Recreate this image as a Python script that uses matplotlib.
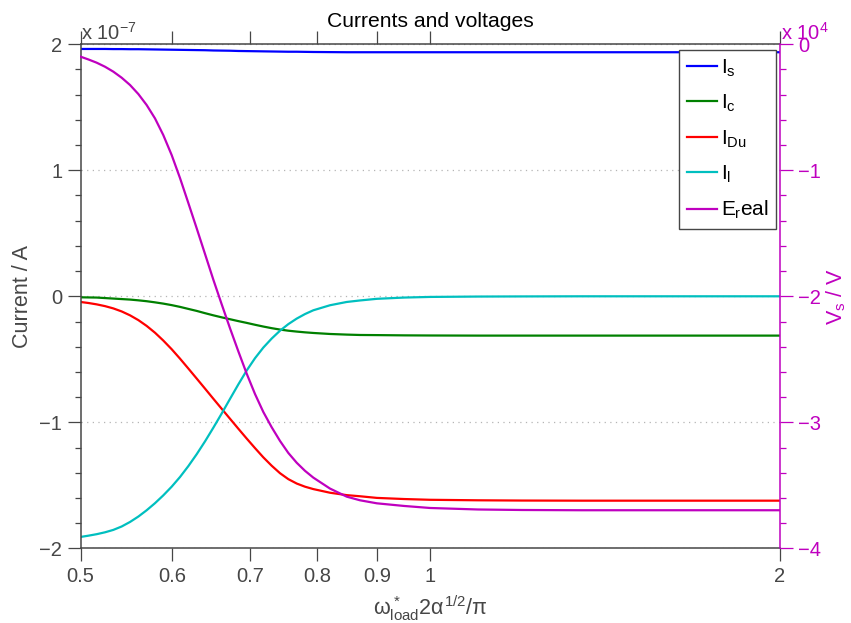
import matplotlib
matplotlib.use("Agg")
import matplotlib.pyplot as plt
from matplotlib.ticker import FixedLocator, MultipleLocator, NullLocator, FixedFormatter

plt.rcParams['font.family'] = ['Liberation Sans', 'DejaVu Sans']
plt.rcParams['mathtext.fontset'] = 'custom'
plt.rcParams['mathtext.rm'] = 'Liberation Sans'
plt.rcParams['mathtext.it'] = 'Liberation Sans'
plt.rcParams['mathtext.sf'] = 'Liberation Sans'
plt.rcParams['mathtext.bf'] = 'Liberation Sans:bold'
plt.rcParams['lines.solid_joinstyle'] = 'round'

# normalised load frequency
freq = [0.5, 0.5078, 0.5163, 0.5249, 0.5336, 0.5425, 0.5516, 0.5608, 0.5701, 0.5796,
        0.5892, 0.5991, 0.6091, 0.6192, 0.6296, 0.6401, 0.6507, 0.6616, 0.6726, 0.6838,
        0.6952, 0.7068, 0.7185, 0.7306, 0.7427, 0.7550, 0.7677, 0.7804, 0.7934, 0.8201,
        0.8477, 0.8704, 0.9, 0.95, 1.0, 1.1, 1.2, 1.35, 1.5, 1.75, 2.0]

# currents in units of 1e-7 A
I_s = [1.963, 1.963, 1.963, 1.963, 1.962, 1.962, 1.961, 1.961, 1.960, 1.959,
       1.958, 1.957, 1.956, 1.955, 1.954, 1.953, 1.951, 1.950, 1.949, 1.947,
       1.946, 1.945, 1.944, 1.943, 1.942, 1.941, 1.941, 1.940, 1.939, 1.938,
       1.937, 1.937, 1.937, 1.937, 1.937, 1.937, 1.937, 1.937, 1.937, 1.937, 1.937]
I_c = [-0.008, -0.009, -0.010, -0.014, -0.018, -0.022, -0.026, -0.032, -0.039, -0.048,
       -0.058, -0.070, -0.084, -0.100, -0.116, -0.134, -0.151, -0.167, -0.182, -0.197,
       -0.211, -0.226, -0.240, -0.253, -0.264, -0.273, -0.280, -0.286, -0.291, -0.299,
       -0.304, -0.307, -0.308, -0.310, -0.311, -0.312, -0.312, -0.312, -0.312, -0.312, -0.312]
I_Du = [-0.045, -0.053, -0.064, -0.078, -0.096, -0.120, -0.151, -0.189, -0.235, -0.289,
        -0.351, -0.420, -0.495, -0.573, -0.653, -0.733, -0.813, -0.893, -0.972, -1.051,
        -1.129, -1.205, -1.278, -1.345, -1.404, -1.451, -1.486, -1.511, -1.530, -1.559,
        -1.578, -1.587, -1.600, -1.609, -1.615, -1.619, -1.621, -1.622, -1.622, -1.622, -1.622]
I_l = [-1.910, -1.900, -1.888, -1.873, -1.854, -1.827, -1.791, -1.748, -1.698, -1.642,
       -1.580, -1.511, -1.434, -1.348, -1.253, -1.151, -1.043, -0.930, -0.814, -0.699,
       -0.589, -0.491, -0.407, -0.335, -0.273, -0.221, -0.177, -0.141, -0.111, -0.071,
       -0.045, -0.033, -0.020, -0.010, -0.005, -0.002, -0.001, 0.0, 0.0, 0.0, 0.0]
# source voltage in units of 1e4 V
E_real = [-0.098, -0.120, -0.146, -0.178, -0.217, -0.265, -0.323, -0.395, -0.482, -0.588,
          -0.720, -0.879, -1.062, -1.259, -1.461, -1.665, -1.868, -2.064, -2.254, -2.437,
          -2.614, -2.776, -2.918, -3.040, -3.148, -3.243, -3.321, -3.385, -3.439, -3.526,
          -3.590, -3.619, -3.643, -3.664, -3.680, -3.692, -3.696, -3.698, -3.698, -3.698, -3.698]

x_ticks = [0.5, 0.6, 0.7, 0.8, 0.9, 1, 2]
x_tick_labels = ['0.5', '0.6', '0.7', '0.8', '0.9', '1', '2']
left_ticks = [-2, -1, 0, 1, 2]
left_tick_labels = ['\u22122', '\u22121', '0', '1', '2']
right_ticks = [-4, -3, -2, -1, 0]
right_tick_labels = ['\u22124', '\u22123', '\u22122', '\u22121', '0']

GRAY = '#464646'
MAG = '#bf00bf'
colors = {'s': '#0000ff', 'c': '#008000', 'Du': '#ff0000', 'l': '#00bfbf'}

W, H = 851, 623
fig = plt.figure(figsize=(W / 100, H / 100), dpi=100)
ax = fig.add_axes([80.5 / W, 1 - 548.3 / H, 699 / W, 504 / H])

h_s, = ax.plot(freq, I_s, color=colors['s'], lw=1.6, label=r'$I_s$')
h_c, = ax.plot(freq, I_c, color=colors['c'], lw=1.6, label=r'$I_c$')
h_du, = ax.plot(freq, I_Du, color=colors['Du'], lw=1.6, label=r'$I_{Du}$')
h_l, = ax.plot(freq, I_l, color=colors['l'], lw=1.6, label=r'$I_l$')

ax.set_xscale('log')
ax.set_xlim(0.5, 2)
ax.set_ylim(-2, 2)
ax.xaxis.set_major_locator(FixedLocator(x_ticks))
ax.xaxis.set_major_formatter(FixedFormatter(x_tick_labels))
ax.xaxis.set_minor_locator(NullLocator())
ax.yaxis.set_major_locator(FixedLocator(left_ticks))
ax.yaxis.set_major_formatter(FixedFormatter(left_tick_labels))
ax.yaxis.set_minor_locator(MultipleLocator(0.2))

ax.tick_params(which='major', direction='out', length=9.7, width=0.9, color=GRAY,
               labelcolor=GRAY, labelsize=14.5, pad=3.5, top=True, right=False)
ax.tick_params(which='minor', direction='out', length=4.4, width=0.9, color=GRAY,
               right=False)
ax.yaxis.grid(True, which='major', linestyle=(0, (1, 3.5)), color='#b5b5b5', lw=0.9)
ax.set_axisbelow(True)
for side in ('left', 'top', 'bottom'):
    ax.spines[side].set_color(GRAY)
    ax.spines[side].set_linewidth(1.1)
ax.spines['right'].set_visible(False)

ax2 = ax.twinx()
h_e, = ax2.plot(freq, E_real, color=MAG, lw=1.6, label=r'$E_r$eal')
ax2.set_ylim(-4, 0)
ax2.yaxis.set_major_locator(FixedLocator(right_ticks))
ax2.yaxis.set_major_formatter(FixedFormatter(right_tick_labels))
ax2.yaxis.set_minor_locator(MultipleLocator(0.2))
ax2.tick_params(which='major', direction='out', length=9.7, width=0.9, color=MAG,
                labelcolor=MAG, labelsize=14.5, pad=3.5)
ax2.tick_params(which='minor', direction='out', length=4.4, width=0.9, color=MAG)
for side in ('left', 'top', 'bottom'):
    ax2.spines[side].set_visible(False)
ax2.spines['right'].set_color(MAG)
ax2.spines['right'].set_linewidth(1.1)

leg = ax2.legend(handles=[h_s, h_c, h_du, h_l, h_e], loc='upper right',
                 bbox_to_anchor=(776 / W, 1 - 50 / H), bbox_transform=fig.transFigure,
                 borderaxespad=0, fontsize=15, frameon=True, fancybox=False,
                 framealpha=1, edgecolor=GRAY, handlelength=1.45, handletextpad=0.2,
                 labelspacing=0.68, borderpad=0.35)
leg.get_frame().set_linewidth(1.0)

fig.text(430 / W, 1 - 27 / H, 'Currents and voltages', ha='center', va='baseline',
         fontsize=15.2, color='black')
fig.text(81 / W, 1 - 40 / H, r'x 10$^{-7}$', ha='left',
         va='baseline', fontsize=14.5, color=GRAY)
fig.text(781 / W, 1 - 40 / H, r'x 10$^{4}$', ha='left', va='baseline', fontsize=14.5,
         color=MAG)
fig.text(430 / W, 1 - 615 / H, r'$\omega^*_{load}2\alpha^{1/2}/\pi$', ha='center',
         va='baseline', fontsize=15.5, color=GRAY)
fig.text(22.5 / W, 1 - 296.5 / H, 'Current / A', rotation=90, ha='center', va='center',
         fontsize=15.5, color=GRAY)
fig.text(836 / W, 1 - 296.5 / H, r'$V_s$ / V', rotation=90, ha='center', va='center',
         fontsize=15.5, color=MAG)

fig.savefig('out.png', dpi=100)
